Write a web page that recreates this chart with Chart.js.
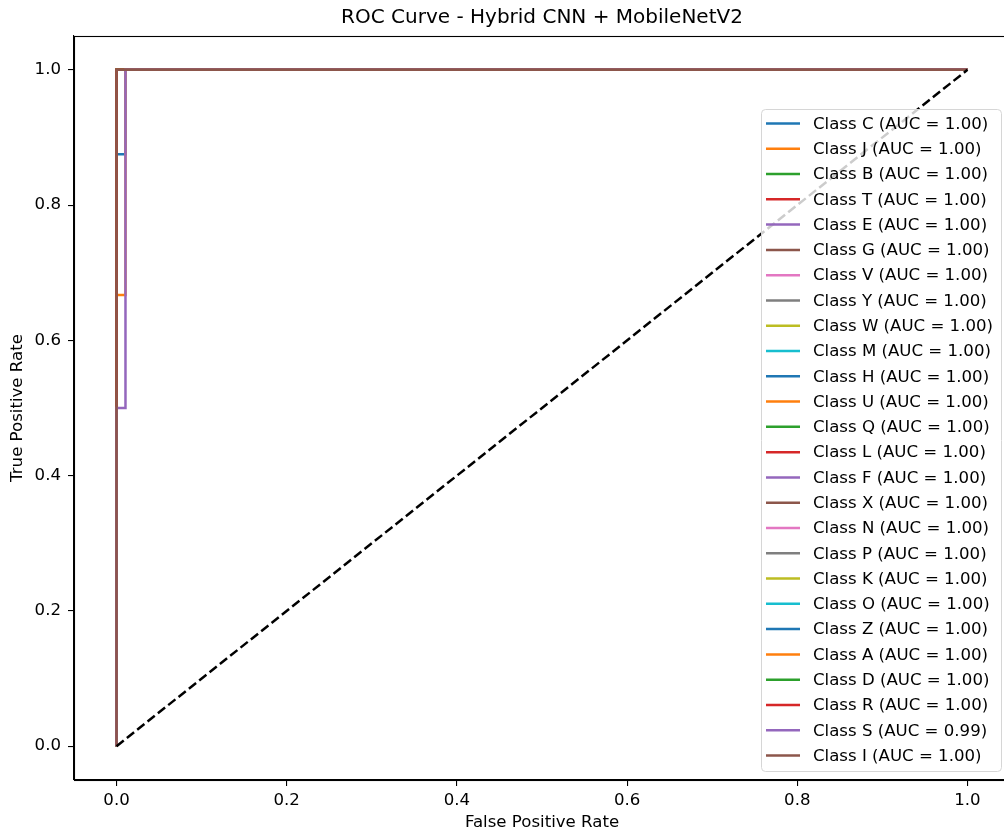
<!DOCTYPE html>
<html lang="en">
<head>
  <meta charset="UTF-8">
  <title>ROC Curve - Hybrid CNN + MobileNetV2</title>
  <script src="https://cdn.jsdelivr.net/npm/chart.js"></script>
  <style>
    html, body {
      margin: 0;
      padding: 0;
      overflow: hidden;
      background: #fff;
    }
    #chart-container {
      width: 1010px;
      height: 834px;
    }
  </style>
</head>
<body>
  <div id="chart-container">
    <canvas id="rocChart" width="1010" height="834"></canvas>
  </div>

  <script>
    // classes in the order they were plotted
    const classNames = ['C', 'J', 'B', 'T', 'E', 'G', 'V', 'Y', 'W', 'M', 'H', 'U', 'Q',
                        'L', 'F', 'X', 'N', 'P', 'K', 'O', 'Z', 'A', 'D', 'R', 'S', 'I'];
    const aucValues = [1.00, 1.00, 1.00, 1.00, 1.00, 1.00, 1.00, 1.00, 1.00, 1.00, 1.00, 1.00, 1.00,
                       1.00, 1.00, 1.00, 1.00, 1.00, 1.00, 1.00, 1.00, 1.00, 1.00, 1.00, 0.99, 1.00];

    // ROC points (fpr / tpr)
    const perfectFpr = [0, 0, 1];
    const perfectTpr = [0, 1, 1];
    const fprC = [0, 0, 0.0105, 0.0105, 1];
    const tprC = [0, 0.875, 0.875, 1, 1];
    const fprJ = [0, 0, 0.0105, 0.0105, 1];
    const tprJ = [0, 0.667, 0.667, 1, 1];
    const fprS = [0, 0, 0.0105, 0.0105, 1];
    const tprS = [0, 0.5, 0.5, 1, 1];
    const diagFpr = [0, 1];
    const diagTpr = [0, 1];

    const xTicks = [0, 0.2, 0.4, 0.6, 0.8, 1.0];
    const yTicks = [0, 0.2, 0.4, 0.6, 0.8, 1.0];

    const chartTitle = 'ROC Curve - Hybrid CNN + MobileNetV2';

    const tab10 = ['#1f77b4', '#ff7f0e', '#2ca02c', '#d62728', '#9467bd',
                   '#8c564b', '#e377c2', '#7f7f7f', '#bcbd22', '#17becf'];

    const curveFor = {
      C: [fprC, tprC],
      J: [fprJ, tprJ],
      S: [fprS, tprS]
    };

    function toPoints(xs, ys) {
      return xs.map((x, i) => ({ x: x, y: ys[i] }));
    }

    const datasets = classNames.map((name, i) => {
      const curve = curveFor[name] || [perfectFpr, perfectTpr];
      return {
        label: `Class ${name} (AUC = ${aucValues[i].toFixed(2)})`,
        data: toPoints(curve[0], curve[1]),
        borderColor: tab10[i % 10],
        backgroundColor: tab10[i % 10],
        borderWidth: 2.5,
        showLine: true,
        pointRadius: 0,
        order: 100 - i
      };
    });
    datasets.push({
      label: 'diagonal',
      data: toPoints(diagFpr, diagTpr),
      borderColor: '#000',
      borderWidth: 2.5,
      borderDash: [9.2, 4],
      showLine: true,
      pointRadius: 0,
      order: 0
    });

    const font = '"DejaVu Sans", sans-serif';

    // axes frame, title over the axes and legend inside the plot, like matplotlib
    const framePlugin = {
      id: 'frame',
      afterDatasetsDraw(chart) {
        const { ctx, chartArea } = chart;
        ctx.save();
        ctx.strokeStyle = '#000';
        ctx.lineWidth = 1.1;
        ctx.strokeRect(chartArea.left + 0.5, chartArea.top + 0.5,
                       chartArea.right - chartArea.left, chartArea.bottom - chartArea.top);
        ctx.restore();
      },
      afterDraw(chart) {
        const { ctx, chartArea } = chart;
        ctx.save();
        ctx.font = '20px ' + font;
        ctx.fillStyle = '#000';
        ctx.textAlign = 'center';
        ctx.textBaseline = 'middle';
        ctx.fillText(chartTitle, (chartArea.left + chartArea.right) / 2, 18);

        const items = chart.data.datasets.slice(0, classNames.length);
        const boxX = 761, boxY = 109, boxW = 240, boxH = 662;
        ctx.beginPath();
        ctx.roundRect(boxX + 0.5, boxY + 0.5, boxW, boxH, 4);
        ctx.fillStyle = 'rgba(255,255,255,0.8)';
        ctx.fill();
        ctx.strokeStyle = '#d6d6d6';
        ctx.lineWidth = 1;
        ctx.stroke();
        ctx.font = '16.6px ' + font;
        ctx.textBaseline = 'middle';
        ctx.textAlign = 'left';
        items.forEach((ds, i) => {
          const y = 123.5 + i * 25.28;
          ctx.strokeStyle = ds.borderColor;
          ctx.lineWidth = 2.5;
          ctx.beginPath();
          ctx.moveTo(766, y);
          ctx.lineTo(800, y);
          ctx.stroke();
          ctx.fillStyle = '#000';
          ctx.fillText(ds.label, 813, y + 1);
        });
        ctx.restore();
      }
    };

    new Chart(document.getElementById('rocChart').getContext('2d'), {
      type: 'scatter',
      data: { datasets: datasets },
      options: {
        responsive: false,
        animation: false,
        layout: { padding: { top: 36, left: 0, right: 0, bottom: 0 } },
        plugins: {
          legend: { display: false },
          tooltip: { enabled: false },
          title: { display: false }
        },
        scales: {
          x: {
            type: 'linear',
            min: -0.05,
            max: 1.05,
            afterBuildTicks(scale) { scale.ticks = xTicks.map(v => ({ value: v })); },
            afterFit(scale) { scale.height = 54; },
            grid: { drawOnChartArea: false, tickLength: 6, lineWidth: 1.1, color: '#000', tickColor: '#000' },
            border: { color: '#000', width: 1.1 },
            ticks: {
              color: '#000',
              padding: 5,
              maxRotation: 0,
              font: { family: font, size: 16.6 },
              callback: v => v.toFixed(1)
            },
            title: {
              display: true,
              text: 'False Positive Rate',
              color: '#000',
              font: { family: font, size: 16.6 },
              padding: { top: 0, bottom: 1 }
            }
          },
          y: {
            type: 'linear',
            min: -0.05,
            max: 1.05,
            afterBuildTicks(scale) { scale.ticks = yTicks.map(v => ({ value: v })); },
            afterFit(scale) { scale.width = 74; },
            grid: { drawOnChartArea: false, tickLength: 6, lineWidth: 1.1, color: '#000', tickColor: '#000' },
            border: { color: '#000', width: 1.1 },
            ticks: {
              color: '#000',
              padding: 7,
              font: { family: font, size: 16.6 },
              callback: v => v.toFixed(1)
            },
            title: {
              display: true,
              text: 'True Positive Rate',
              color: '#000',
              font: { family: font, size: 16.6 },
              padding: { top: 8, bottom: 0 }
            }
          }
        }
      },
      plugins: [framePlugin]
    });
  </script>
</body>
</html>
